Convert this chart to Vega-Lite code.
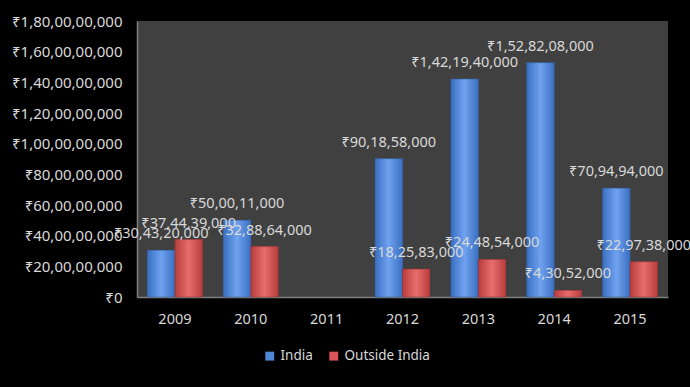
{
  "$schema": "https://vega.github.io/schema/vega-lite/v6.json",
  "width": 531,
  "height": 276,
  "autosize": {"type": "none"},
  "padding": {"left": 137, "top": 21, "right": 22, "bottom": 90},
  "background": "#000000",
  "config": {
    "view": {"fill": "#404040", "stroke": null},
    "font": "Noto Sans",
    "locale": {
      "number": {"decimal": ".", "thousands": ",", "grouping": [3, 2, 2, 2, 2, 2, 2, 2], "currency": ["₹", ""]}
    }
  },
  "data": {
    "values": [
      {"year": "2009", "series": "India", "value": 304320000},
      {"year": "2009", "series": "Outside India", "value": 374439000},
      {"year": "2010", "series": "India", "value": 500011000},
      {"year": "2010", "series": "Outside India", "value": 328864000},
      {"year": "2012", "series": "India", "value": 901858000},
      {"year": "2012", "series": "Outside India", "value": 182583000},
      {"year": "2013", "series": "India", "value": 1421940000},
      {"year": "2013", "series": "Outside India", "value": 244854000},
      {"year": "2014", "series": "India", "value": 1528208000},
      {"year": "2014", "series": "Outside India", "value": 43052000},
      {"year": "2015", "series": "India", "value": 709494000},
      {"year": "2015", "series": "Outside India", "value": 229738000}
    ]
  },
  "encoding": {
    "x": {
      "field": "year", "type": "nominal",
      "scale": {"domain": ["2009", "2010", "2011", "2012", "2013", "2014", "2015"], "paddingInner": 0.276, "paddingOuter": 0.138},
      "axis": {"title": null, "labelAngle": 0, "ticks": false, "domainColor": "#808080", "domainWidth": 1.5, "labelColor": "#d9d9d9", "labelFontSize": 14.5, "labelPadding": 15}
    },
    "xOffset": {"field": "series", "type": "nominal", "scale": {"domain": ["India", "Outside India"]}},
    "y": {
      "field": "value", "type": "quantitative",
      "scale": {"domain": [0, 1800000000], "nice": false},
      "axis": {"title": null, "format": "$,d", "values": [0, 200000000, 400000000, 600000000, 800000000, 1000000000, 1200000000, 1400000000, 1600000000, 1800000000], "grid": false, "ticks": false, "domainColor": "#808080", "domainWidth": 1.5, "labelColor": "#d9d9d9", "labelFontSize": 15, "labelPadding": 15}
    }
  },
  "layer": [
    {
      "mark": {"type": "bar"},
      "encoding": {
        "color": {
          "field": "series", "type": "nominal",
          "scale": {"domain": ["India", "Outside India"], "range": ["#4f86d6", "#d9555a"]},
          "legend": {"title": null, "orient": "none", "legendX": 126, "legendY": 328, "direction": "horizontal", "symbolType": "square", "symbolSize": 80, "labelColor": "#d9d9d9", "labelFontSize": 13.5, "columnPadding": 14, "padding": 0}
        }
      }
    },
    {
      "transform": [{"filter": "datum.series == 'India'"}],
      "mark": {"type": "bar", "stroke": "#2f5a9a", "strokeWidth": 0.5, "fill": {"gradient": "linear", "x1": 0, "x2": 1, "y1": 0, "y2": 0, "stops": [{"offset": 0, "color": "#3a6ec0"}, {"offset": 0.5, "color": "#6fa3f0"}, {"offset": 1, "color": "#3a6ec0"}]}}
    },
    {
      "transform": [{"filter": "datum.series == 'Outside India'"}],
      "mark": {"type": "bar", "stroke": "#8a2f2f", "strokeWidth": 0.5, "fill": {"gradient": "linear", "x1": 0, "x2": 1, "y1": 0, "y2": 0, "stops": [{"offset": 0, "color": "#b83c3c"}, {"offset": 0.5, "color": "#e86d6d"}, {"offset": 1, "color": "#b83c3c"}]}}
    },
    {
      "mark": {"type": "text", "baseline": "bottom", "dy": -9, "fontSize": 14.5, "color": "#d9d9d9"},
      "encoding": {"text": {"field": "value", "type": "quantitative", "format": "$,d"}}
    }
  ]
}
